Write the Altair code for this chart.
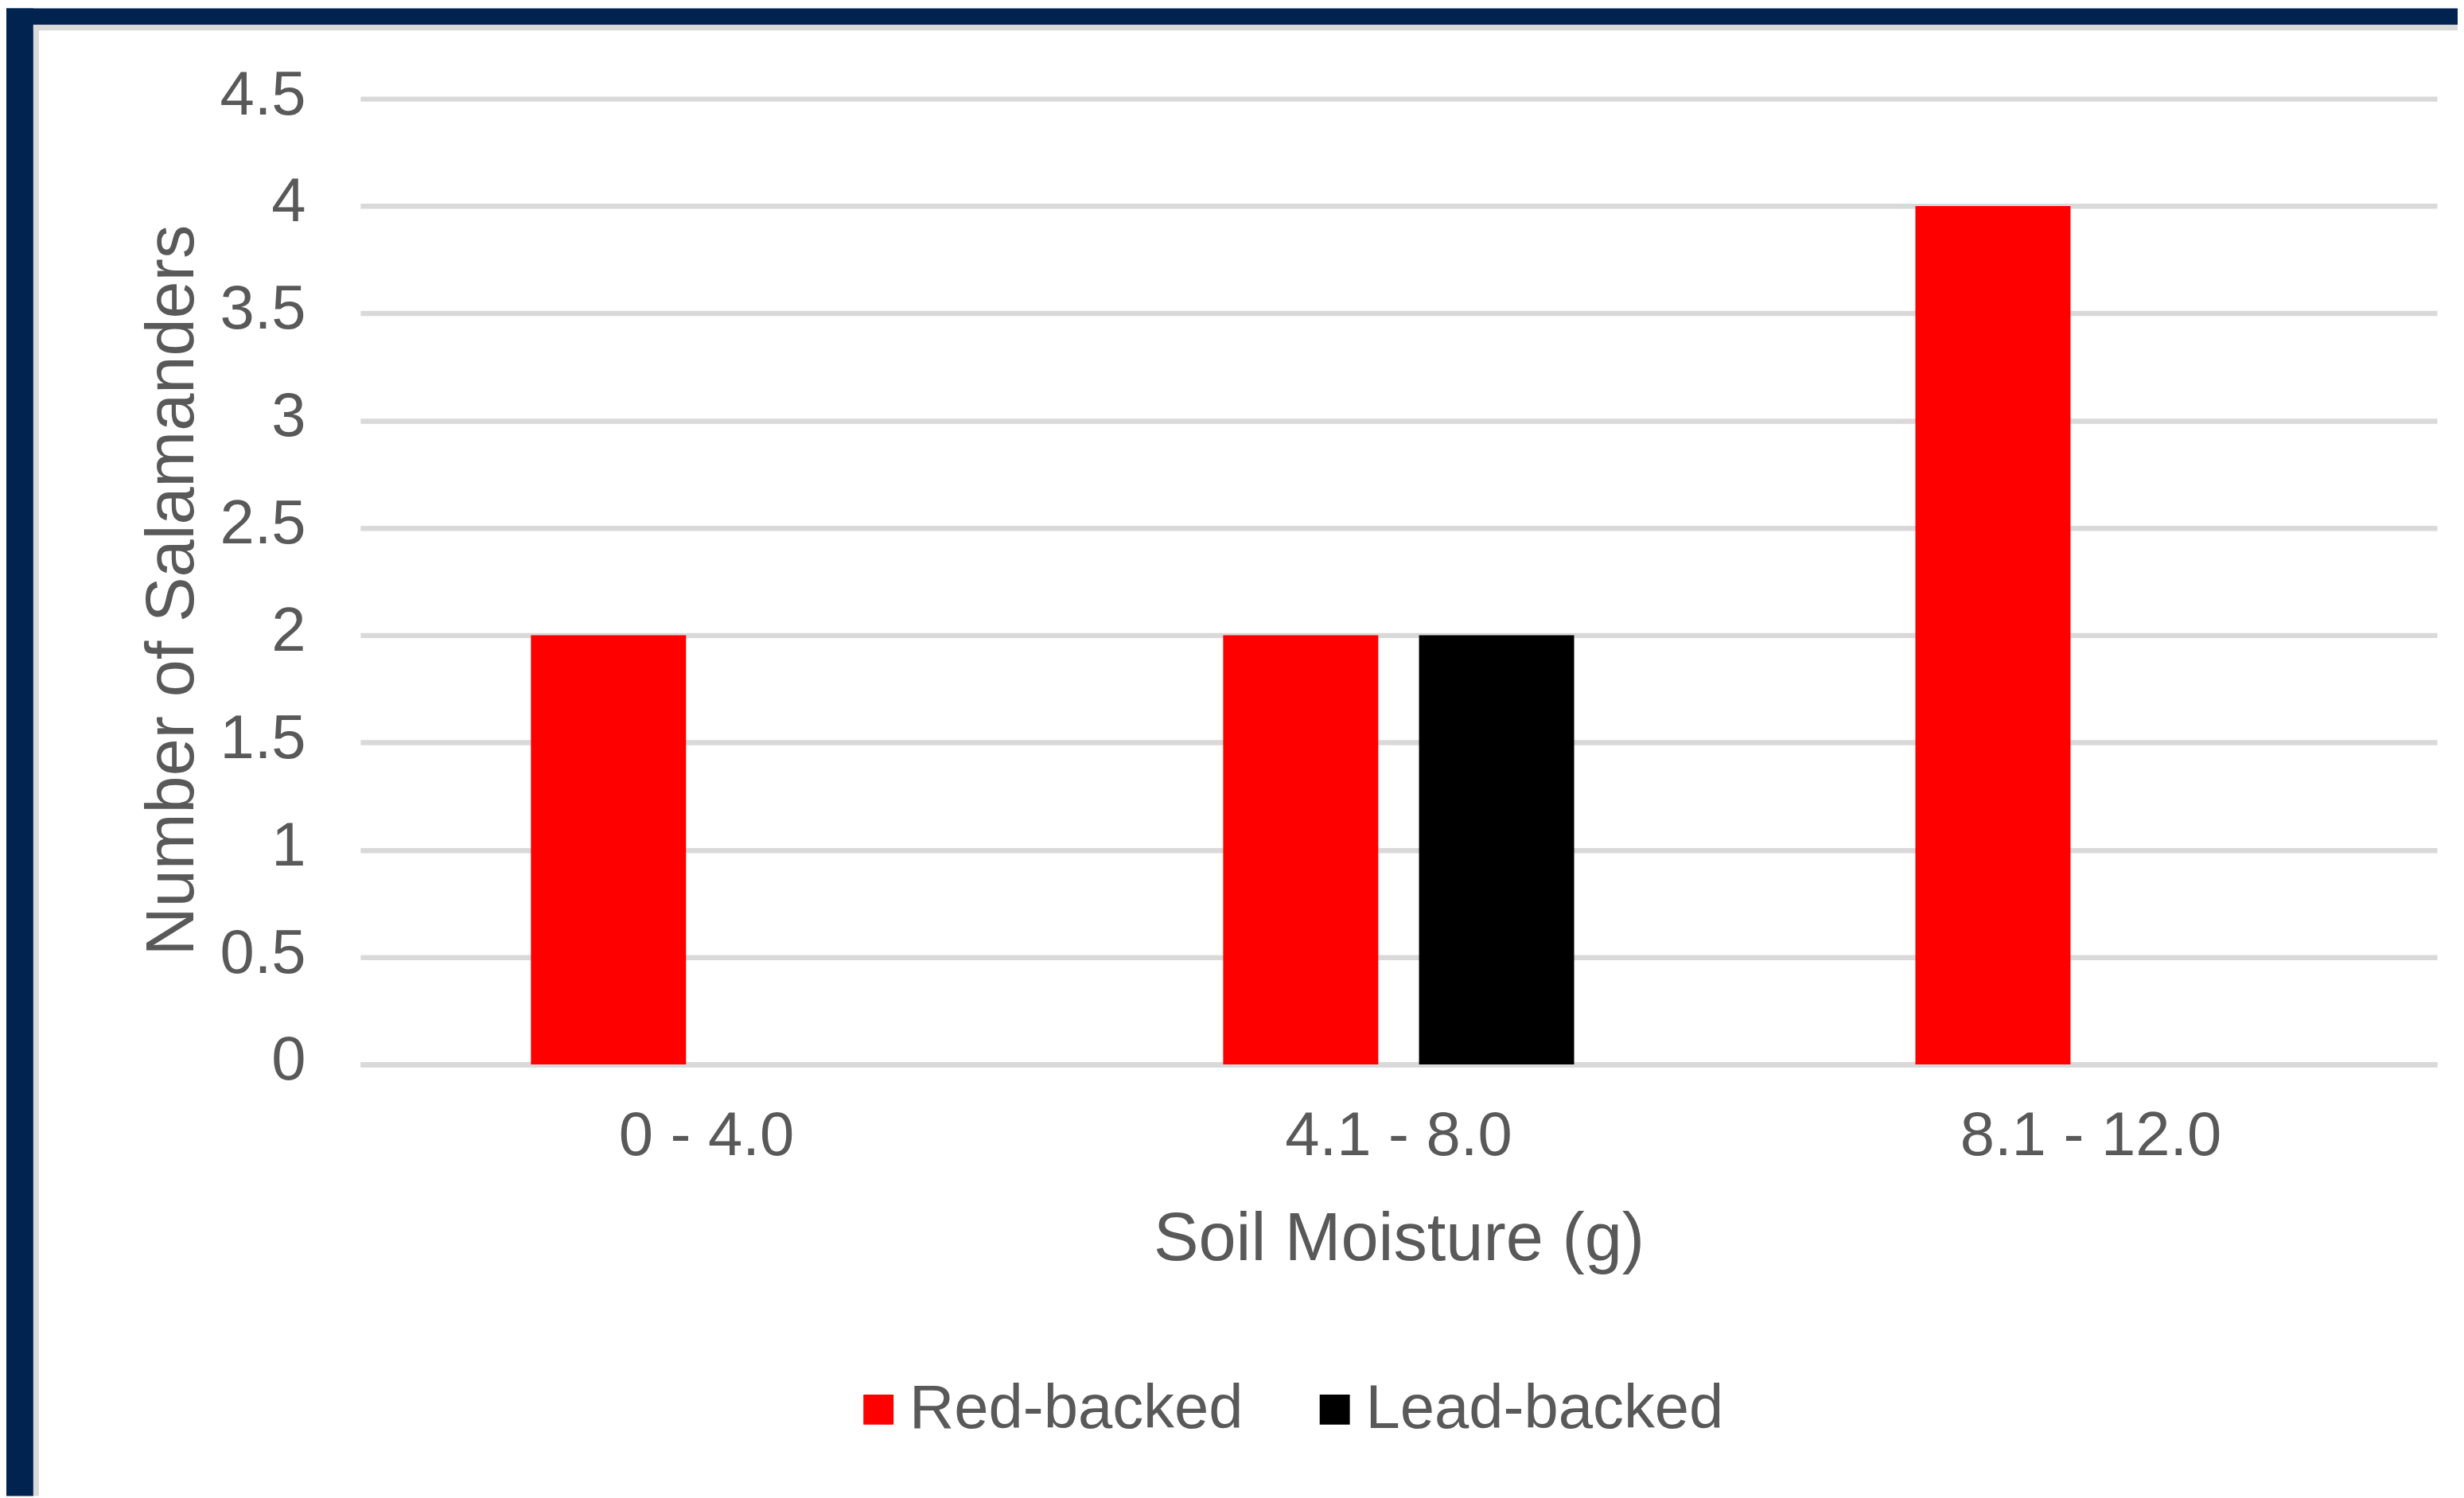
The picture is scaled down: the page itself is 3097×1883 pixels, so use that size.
import altair as alt
import pandas as pd

# ---- data ----
categories = ["0 - 4.0", "4.1 - 8.0", "8.1 - 12.0"]
series_names = ["Red-backed", "Lead-backed"]
red_backed = [2, 2, 4]
lead_backed = [0, 2, 0]
y_ticks = [0, 0.5, 1, 1.5, 2, 2.5, 3, 3.5, 4, 4.5]

series_colors = ["#ff0000", "#000000"]
navy = "#012350"
frame_gray = "#d9d9d9"
text_color = "#595959"

rows = []
for i, c in enumerate(categories):
    rows.append({"Soil Moisture": c, "Species": series_names[0], "Count": red_backed[i]})
    rows.append({"Soil Moisture": c, "Species": series_names[1], "Count": lead_backed[i]})
df = pd.DataFrame(rows)

W, H = 2617, 1217
PL, PT = 446, 114
PR = 3089 - PL - W
PB = 1875 - PT - H

bars = alt.Chart(df).mark_bar().encode(
    x=alt.X(
        "Soil Moisture:N",
        sort=categories,
        scale=alt.Scale(paddingInner=0.493, paddingOuter=0.2465),
        axis=alt.Axis(
            title="Soil Moisture (g)",
            labelAngle=0,
            labelFontSize=78,
            labelColor=text_color,
            labelPadding=52,
            labelLimit=0,
            ticks=False,
            domain=True,
            domainColor=frame_gray,
            domainWidth=6.5,
            grid=False,
            titleFontSize=85,
            titleFontWeight="normal",
            titleColor=text_color,
            titleY=179,
            titleBaseline="top",
        ),
    ),
    xOffset=alt.XOffset(
        "Species:N",
        sort=series_names,
        scale=alt.Scale(paddingInner=0.208, paddingOuter=0),
    ),
    y=alt.Y(
        "Count:Q",
        scale=alt.Scale(domain=[0, 4.5], nice=False),
        axis=alt.Axis(
            title="Number of Salamanders",
            values=y_ticks,
            labelExpr="'' + datum.value",
            labelFontSize=78,
            labelColor=text_color,
            labelPadding=69,
            labelLimit=0,
            labelOffset=-4,
            ticks=False,
            domain=False,
            grid=True,
            gridColor=frame_gray,
            gridWidth=6.5,
            titleFontSize=85,
            titleFontWeight="normal",
            titleColor=text_color,
            titleLimit=0,
            titleX=-211,
            titleY=619,
            titleBaseline="alphabetic",
        ),
    ),
    color=alt.Color(
        "Species:N",
        scale=alt.Scale(domain=series_names, range=series_colors),
        legend=alt.Legend(
            title=None,
            orient="none",
            direction="horizontal",
            legendX=614,
            legendY=1613,
            symbolType="square",
            symbolSize=1444,
            symbolStrokeWidth=0,
            labelFontSize=78,
            labelColor=text_color,
            labelLimit=0,
            labelOffset=0,
            columnPadding=76,
            padding=0,
        ),
    ),
)

one = alt.Data(values=[{"k": 1}])

def frame_rect(color, x0, x1, y0, y1):
    return alt.Chart(one).mark_rect(color=color).encode(
        x=alt.value(x0), x2=alt.value(x1), y=alt.value(y0), y2=alt.value(y1)
    )

frame = [
    frame_rect(navy, -PL, W + PR, -PT, -93),
    frame_rect(navy, -PL, -412, -PT, H + PB),
    frame_rect(frame_gray, -412, W + PR, -93, -86),
    frame_rect(frame_gray, -412, -405, -93, H + PB),
]

chart = alt.layer(*frame, bars).properties(
    width=W,
    height=H,
    padding={"left": PL, "top": PT, "right": PR, "bottom": PB},
    autosize=alt.AutoSizeParams(type="none"),
    background="white",
).configure(
    font="Liberation Sans",
).configure_view(
    stroke=None,
)

chart.save("out.html", embed_options={"renderer": "svg", "actions": False})
